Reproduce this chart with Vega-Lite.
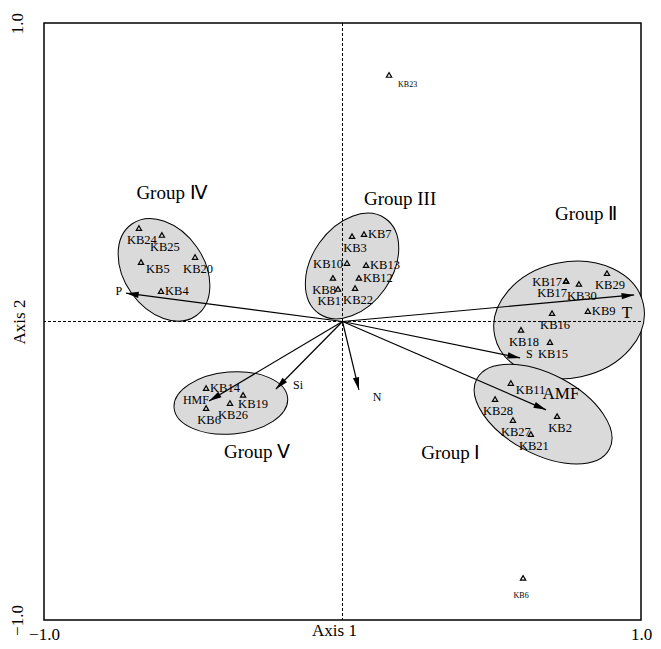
{
  "$schema": "https://vega.github.io/schema/vega-lite/v6.json",
  "width": 597,
  "height": 597,
  "autosize": {"type": "none"},
  "padding": {"left": 44, "top": 23, "right": 20, "bottom": 29},
  "background": "white",
  "config": {
    "view": {"stroke": "black", "strokeWidth": 1.5},
    "font": "Liberation Serif",
    "text": {"font": "Liberation Serif", "color": "black"},
    "axis": {"grid": false, "ticks": false, "domain": false, "labelFlush": false, "labelOverlap": false,
      "labelFont": "Liberation Serif", "labelFontSize": 17, "labelColor": "black",
      "titleFont": "Liberation Serif", "titleFontSize": 17, "titleFontWeight": "normal", "titleColor": "black"},
    "axisX": {"labelPadding": 6, "titlePadding": -20, "titleX": 290},
    "axisY": {"labelAngle": -90, "labelPadding": 18, "titlePadding": -20}
  },
  "datasets": {
    "groups": [
      {"group": "IV", "x": -0.598, "y": 0.173},
      {"group": "III", "x": 0.032, "y": 0.186},
      {"group": "II", "x": 0.759, "y": 0.005},
      {"group": "I", "x": 0.672, "y": -0.31},
      {"group": "V", "x": -0.374, "y": -0.273}
    ],
    "origin": [{"x": 0, "y": 0}],
    "vectors": [
      {"var": "P", "x0": 0, "y0": 0, "x": -0.725, "y": 0.095},
      {"var": "T", "x0": 0, "y0": 0, "x": 0.977, "y": 0.089},
      {"var": "S", "x0": 0, "y0": 0, "x": 0.595, "y": -0.122},
      {"var": "AMF", "x0": 0, "y0": 0, "x": 0.682, "y": -0.296},
      {"var": "HMF", "x0": 0, "y0": 0, "x": -0.447, "y": -0.266},
      {"var": "Si", "x0": 0, "y0": 0, "x": -0.223, "y": -0.226},
      {"var": "N", "x0": 0, "y0": 0, "x": 0.055, "y": -0.229}
    ],
    "sites": [
      {"label": "KB24", "x": -0.682, "y": 0.313, "side": "b"},
      {"label": "KB25", "x": -0.605, "y": 0.29, "side": "b"},
      {"label": "KB5", "x": -0.675, "y": 0.199, "side": "br"},
      {"label": "KB20", "x": -0.494, "y": 0.216, "side": "b"},
      {"label": "KB4", "x": -0.608, "y": 0.102, "side": "r"},
      {"label": "KB3", "x": 0.032, "y": 0.286, "side": "b"},
      {"label": "KB7", "x": 0.072, "y": 0.293, "side": "r"},
      {"label": "KB10", "x": 0.015, "y": 0.196, "side": "l"},
      {"label": "KB13", "x": 0.079, "y": 0.189, "side": "r"},
      {"label": "KB12", "x": 0.055, "y": 0.146, "side": "r"},
      {"label": "KB8", "x": -0.032, "y": 0.146, "side": "bl"},
      {"label": "KB1", "x": -0.015, "y": 0.109, "side": "bl"},
      {"label": "KB22", "x": 0.042, "y": 0.112, "side": "b"},
      {"label": "KB29", "x": 0.886, "y": 0.162, "side": "b"},
      {"label": "KB17", "x": 0.749, "y": 0.136, "side": "l"},
      {"label": "KB17", "x": 0.749, "y": 0.136, "side": "bl2"},
      {"label": "KB30", "x": 0.792, "y": 0.126, "side": "b"},
      {"label": "KB9", "x": 0.822, "y": 0.035, "side": "r"},
      {"label": "KB16", "x": 0.702, "y": 0.028, "side": "b"},
      {"label": "KB18", "x": 0.598, "y": -0.028, "side": "b"},
      {"label": "KB15", "x": 0.695, "y": -0.069, "side": "b"},
      {"label": "KB11", "x": 0.564, "y": -0.206, "side": "br"},
      {"label": "KB28", "x": 0.511, "y": -0.26, "side": "b"},
      {"label": "KB27", "x": 0.571, "y": -0.33, "side": "b"},
      {"label": "KB21", "x": 0.631, "y": -0.377, "side": "b"},
      {"label": "KB2", "x": 0.719, "y": -0.317, "side": "b"},
      {"label": "KB14", "x": -0.457, "y": -0.223, "side": "r"},
      {"label": "KB6", "x": -0.457, "y": -0.29, "side": "b"},
      {"label": "KB26", "x": -0.377, "y": -0.273, "side": "b"},
      {"label": "KB19", "x": -0.333, "y": -0.246, "side": "bs"},
      {"label": "KB23", "x": 0.156, "y": 0.826, "side": "sr"},
      {"label": "KB6", "x": 0.605, "y": -0.859, "side": "sb"}
    ],
    "notes": [
      {"text": "Group Ⅳ", "x": -0.571, "y": 0.43, "kind": "group"},
      {"text": "Group III", "x": 0.193, "y": 0.41, "kind": "group"},
      {"text": "Group Ⅱ", "x": 0.816, "y": 0.36, "kind": "group"},
      {"text": "Group Ⅰ", "x": 0.363, "y": -0.441, "kind": "group"},
      {"text": "Group Ⅴ", "x": -0.286, "y": -0.437, "kind": "group"},
      {"text": "P", "x": -0.749, "y": 0.102, "kind": "var"},
      {"text": "T", "x": 0.953, "y": 0.028, "kind": "big"},
      {"text": "S", "x": 0.626, "y": -0.11, "kind": "var"},
      {"text": "AMF", "x": 0.732, "y": -0.243, "kind": "big"},
      {"text": "HMF", "x": -0.491, "y": -0.263, "kind": "var"},
      {"text": "Si", "x": -0.149, "y": -0.213, "kind": "var"},
      {"text": "N", "x": 0.116, "y": -0.253, "kind": "var"}
    ]
  },
  "layer": [
    {
      "data": {"name": "groups"},
      "transform": [{"filter": "datum.group === 'IV'"}],
      "mark": {"type": "point", "shape": "M 1 0 C 1 0.394 0.552 0.714 0 0.714 C -0.552 0.714 -1 0.394 -1 0 C -1 -0.394 -0.552 -0.714 0 -0.714 C 0.552 -0.714 1 -0.394 1 0 Z", "size": 12544, "angle": 55, "filled": true, "fill": "#dadada", "stroke": "black", "strokeWidth": 1, "opacity": 1},
      "encoding": {
        "x": {"field": "x", "type": "quantitative", "title": "Axis 1", "scale": {"domain": [-1, 1], "nice": false, "zero": false}, "axis": {"values": [-1, 1], "format": ".1f"}},
        "y": {"field": "y", "type": "quantitative", "title": "Axis 2", "scale": {"domain": [-1, 1], "nice": false, "zero": false}, "axis": {"values": [-1, 1], "format": ".1f"}}
      }
    },
    {
      "data": {"name": "groups"},
      "transform": [{"filter": "datum.group === 'III'"}],
      "mark": {"type": "point", "shape": "M 1 0 C 1 0.381 0.552 0.69 0 0.69 C -0.552 0.69 -1 0.381 -1 0 C -1 -0.381 -0.552 -0.69 0 -0.69 C 0.552 -0.69 1 -0.381 1 0 Z", "size": 13456, "angle": -55, "filled": true, "fill": "#dadada", "stroke": "black", "strokeWidth": 1, "opacity": 1},
      "encoding": {
        "x": {"field": "x", "type": "quantitative", "title": "Axis 1", "axis": {"values": [-1, 1], "format": ".1f"}},
        "y": {"field": "y", "type": "quantitative", "title": "Axis 2", "axis": {"values": [-1, 1], "format": ".1f"}}
      }
    },
    {
      "data": {"name": "groups"},
      "transform": [{"filter": "datum.group === 'II'"}],
      "mark": {"type": "point", "shape": "M 1 0 C 1 0.421 0.552 0.763 0 0.763 C -0.552 0.763 -1 0.421 -1 0 C -1 -0.421 -0.552 -0.763 0 -0.763 C 0.552 -0.763 1 -0.421 1 0 Z", "size": 23104, "angle": -12, "filled": true, "fill": "#dadada", "stroke": "black", "strokeWidth": 1, "opacity": 1},
      "encoding": {
        "x": {"field": "x", "type": "quantitative", "title": "Axis 1", "axis": {"values": [-1, 1], "format": ".1f"}},
        "y": {"field": "y", "type": "quantitative", "title": "Axis 2", "axis": {"values": [-1, 1], "format": ".1f"}}
      }
    },
    {
      "data": {"name": "groups"},
      "transform": [{"filter": "datum.group === 'I'"}],
      "mark": {"type": "point", "shape": "M 1 0 C 1 0.295 0.552 0.533 0 0.533 C -0.552 0.533 -1 0.295 -1 0 C -1 -0.295 -0.552 -0.533 0 -0.533 C 0.552 -0.533 1 -0.295 1 0 Z", "size": 22500, "angle": 28, "filled": true, "fill": "#dadada", "stroke": "black", "strokeWidth": 1, "opacity": 1},
      "encoding": {
        "x": {"field": "x", "type": "quantitative", "title": "Axis 1", "axis": {"values": [-1, 1], "format": ".1f"}},
        "y": {"field": "y", "type": "quantitative", "title": "Axis 2", "axis": {"values": [-1, 1], "format": ".1f"}}
      }
    },
    {
      "data": {"name": "groups"},
      "transform": [{"filter": "datum.group === 'V'"}],
      "mark": {"type": "point", "shape": "M 1 0 C 1 0.3 0.552 0.544 0 0.544 C -0.552 0.544 -1 0.3 -1 0 C -1 -0.3 -0.552 -0.544 0 -0.544 C 0.552 -0.544 1 -0.3 1 0 Z", "size": 12996, "angle": -5, "filled": true, "fill": "#dadada", "stroke": "black", "strokeWidth": 1, "opacity": 1},
      "encoding": {
        "x": {"field": "x", "type": "quantitative", "title": "Axis 1", "axis": {"values": [-1, 1], "format": ".1f"}},
        "y": {"field": "y", "type": "quantitative", "title": "Axis 2", "axis": {"values": [-1, 1], "format": ".1f"}}
      }
    },
    {
      "data": {"name": "origin"},
      "mark": {"type": "rule", "color": "black", "strokeWidth": 1, "strokeDash": [3, 2]},
      "encoding": {"x": {"field": "x", "type": "quantitative", "title": "Axis 1", "axis": {"values": [-1, 1], "format": ".1f"}}}
    },
    {
      "data": {"name": "origin"},
      "mark": {"type": "rule", "color": "black", "strokeWidth": 1, "strokeDash": [3, 2]},
      "encoding": {"y": {"field": "y", "type": "quantitative", "title": "Axis 2", "axis": {"values": [-1, 1], "format": ".1f"}}}
    },
    {
      "data": {"name": "vectors"},
      "mark": {"type": "rule", "color": "black", "strokeWidth": 1.2},
      "encoding": {
        "x": {"field": "x0", "type": "quantitative", "title": "Axis 1", "axis": {"values": [-1, 1], "format": ".1f"}},
        "y": {"field": "y0", "type": "quantitative", "title": "Axis 2", "axis": {"values": [-1, 1], "format": ".1f"}},
        "x2": {"field": "x"},
        "y2": {"field": "y"}
      }
    },
    {
      "data": {"name": "vectors"},
      "transform": [{"calculate": "atan2(-datum.y, datum.x) * 180 / PI", "as": "ang"}],
      "mark": {"type": "point", "shape": "M 0 0 L -2.4 -0.6 L -2.4 0.6 Z", "size": 110, "filled": true, "color": "black", "opacity": 1},
      "encoding": {
        "x": {"field": "x", "type": "quantitative", "title": "Axis 1", "axis": {"values": [-1, 1], "format": ".1f"}},
        "y": {"field": "y", "type": "quantitative", "title": "Axis 2", "axis": {"values": [-1, 1], "format": ".1f"}},
        "angle": {"field": "ang", "type": "quantitative", "scale": null}
      }
    },
    {
      "data": {"name": "sites"},
      "mark": {"type": "point", "shape": "triangle-up", "size": 28, "filled": false, "stroke": "black", "strokeWidth": 1.2, "opacity": 1},
      "encoding": {
        "x": {"field": "x", "type": "quantitative", "title": "Axis 1", "axis": {"values": [-1, 1], "format": ".1f"}},
        "y": {"field": "y", "type": "quantitative", "title": "Axis 2", "axis": {"values": [-1, 1], "format": ".1f"}}
      }
    },
    {
      "data": {"name": "sites"},
      "transform": [{"filter": "datum.side === 'r'"}],
      "mark": {"type": "text", "align": "left", "baseline": "middle", "dx": 4, "dy": 0, "fontSize": 12.5},
      "encoding": {
        "x": {"field": "x", "type": "quantitative", "title": "Axis 1", "axis": {"values": [-1, 1], "format": ".1f"}},
        "y": {"field": "y", "type": "quantitative", "title": "Axis 2", "axis": {"values": [-1, 1], "format": ".1f"}},
        "text": {"field": "label"}
      }
    },
    {
      "data": {"name": "sites"},
      "transform": [{"filter": "datum.side === 'l'"}],
      "mark": {"type": "text", "align": "right", "baseline": "middle", "dx": -4, "dy": 1, "fontSize": 12.5},
      "encoding": {
        "x": {"field": "x", "type": "quantitative", "title": "Axis 1", "axis": {"values": [-1, 1], "format": ".1f"}},
        "y": {"field": "y", "type": "quantitative", "title": "Axis 2", "axis": {"values": [-1, 1], "format": ".1f"}},
        "text": {"field": "label"}
      }
    },
    {
      "data": {"name": "sites"},
      "transform": [{"filter": "datum.side === 'b'"}],
      "mark": {"type": "text", "align": "center", "baseline": "middle", "dx": 3, "dy": 12, "fontSize": 12.5},
      "encoding": {
        "x": {"field": "x", "type": "quantitative", "title": "Axis 1", "axis": {"values": [-1, 1], "format": ".1f"}},
        "y": {"field": "y", "type": "quantitative", "title": "Axis 2", "axis": {"values": [-1, 1], "format": ".1f"}},
        "text": {"field": "label"}
      }
    },
    {
      "data": {"name": "sites"},
      "transform": [{"filter": "datum.side === 'bl'"}],
      "mark": {"type": "text", "align": "right", "baseline": "middle", "dx": 3, "dy": 12, "fontSize": 12.5},
      "encoding": {
        "x": {"field": "x", "type": "quantitative", "title": "Axis 1", "axis": {"values": [-1, 1], "format": ".1f"}},
        "y": {"field": "y", "type": "quantitative", "title": "Axis 2", "axis": {"values": [-1, 1], "format": ".1f"}},
        "text": {"field": "label"}
      }
    },
    {
      "data": {"name": "sites"},
      "transform": [{"filter": "datum.side === 'bl2'"}],
      "mark": {"type": "text", "align": "right", "baseline": "middle", "dx": 1, "dy": 12, "fontSize": 12.5},
      "encoding": {
        "x": {"field": "x", "type": "quantitative", "title": "Axis 1", "axis": {"values": [-1, 1], "format": ".1f"}},
        "y": {"field": "y", "type": "quantitative", "title": "Axis 2", "axis": {"values": [-1, 1], "format": ".1f"}},
        "text": {"field": "label"}
      }
    },
    {
      "data": {"name": "sites"},
      "transform": [{"filter": "datum.side === 'br'"}],
      "mark": {"type": "text", "align": "left", "baseline": "middle", "dx": 5, "dy": 7, "fontSize": 12.5},
      "encoding": {
        "x": {"field": "x", "type": "quantitative", "title": "Axis 1", "axis": {"values": [-1, 1], "format": ".1f"}},
        "y": {"field": "y", "type": "quantitative", "title": "Axis 2", "axis": {"values": [-1, 1], "format": ".1f"}},
        "text": {"field": "label"}
      }
    },
    {
      "data": {"name": "sites"},
      "transform": [{"filter": "datum.side === 'bs'"}],
      "mark": {"type": "text", "align": "left", "baseline": "middle", "dx": -5, "dy": 9, "fontSize": 12.5},
      "encoding": {
        "x": {"field": "x", "type": "quantitative", "title": "Axis 1", "axis": {"values": [-1, 1], "format": ".1f"}},
        "y": {"field": "y", "type": "quantitative", "title": "Axis 2", "axis": {"values": [-1, 1], "format": ".1f"}},
        "text": {"field": "label"}
      }
    },
    {
      "data": {"name": "sites"},
      "transform": [{"filter": "datum.side === 'sr'"}],
      "mark": {"type": "text", "align": "left", "baseline": "middle", "dx": 9, "dy": 10, "fontSize": 8},
      "encoding": {
        "x": {"field": "x", "type": "quantitative", "title": "Axis 1", "axis": {"values": [-1, 1], "format": ".1f"}},
        "y": {"field": "y", "type": "quantitative", "title": "Axis 2", "axis": {"values": [-1, 1], "format": ".1f"}},
        "text": {"field": "label"}
      }
    },
    {
      "data": {"name": "sites"},
      "transform": [{"filter": "datum.side === 'sb'"}],
      "mark": {"type": "text", "align": "center", "baseline": "middle", "dx": -2, "dy": 18, "fontSize": 8},
      "encoding": {
        "x": {"field": "x", "type": "quantitative", "title": "Axis 1", "axis": {"values": [-1, 1], "format": ".1f"}},
        "y": {"field": "y", "type": "quantitative", "title": "Axis 2", "axis": {"values": [-1, 1], "format": ".1f"}},
        "text": {"field": "label"}
      }
    },
    {
      "data": {"name": "notes"},
      "transform": [{"filter": "datum.kind === 'group'"}],
      "mark": {"type": "text", "align": "center", "baseline": "middle", "fontSize": 19},
      "encoding": {
        "x": {"field": "x", "type": "quantitative", "title": "Axis 1", "axis": {"values": [-1, 1], "format": ".1f"}},
        "y": {"field": "y", "type": "quantitative", "title": "Axis 2", "axis": {"values": [-1, 1], "format": ".1f"}},
        "text": {"field": "text"}
      }
    },
    {
      "data": {"name": "notes"},
      "transform": [{"filter": "datum.kind === 'var'"}],
      "mark": {"type": "text", "align": "center", "baseline": "middle", "fontSize": 12},
      "encoding": {
        "x": {"field": "x", "type": "quantitative", "title": "Axis 1", "axis": {"values": [-1, 1], "format": ".1f"}},
        "y": {"field": "y", "type": "quantitative", "title": "Axis 2", "axis": {"values": [-1, 1], "format": ".1f"}},
        "text": {"field": "text"}
      }
    },
    {
      "data": {"name": "notes"},
      "transform": [{"filter": "datum.kind === 'big'"}],
      "mark": {"type": "text", "align": "center", "baseline": "middle", "fontSize": 17},
      "encoding": {
        "x": {"field": "x", "type": "quantitative", "title": "Axis 1", "axis": {"values": [-1, 1], "format": ".1f"}},
        "y": {"field": "y", "type": "quantitative", "title": "Axis 2", "axis": {"values": [-1, 1], "format": ".1f"}},
        "text": {"field": "text"}
      }
    }
  ]
}
